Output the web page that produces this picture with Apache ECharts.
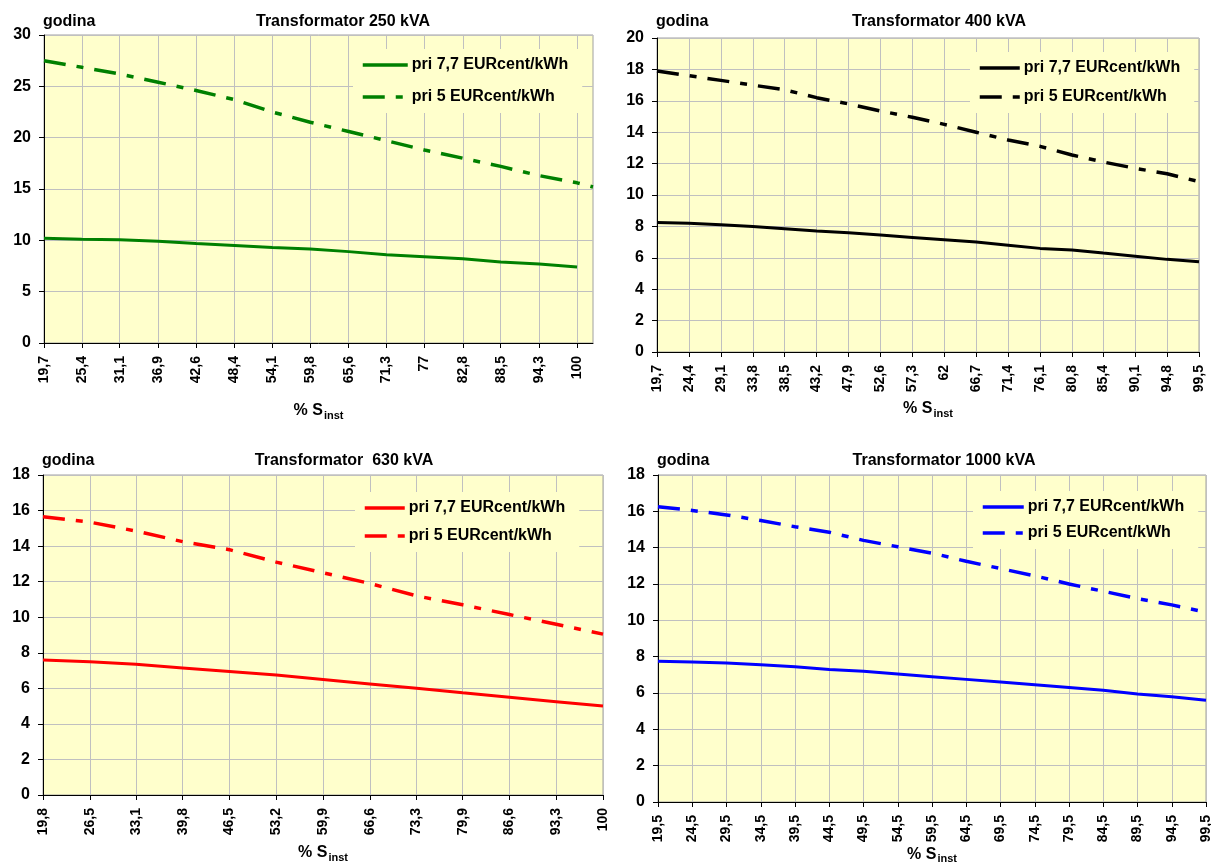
<!DOCTYPE html>
<html>
<head>
<meta charset="utf-8">
<script src="https://cdn.jsdelivr.net/npm/echarts@6/dist/echarts.min.js"></script>
<style>
  html, body { margin: 0; padding: 0; background: #ffffff; }
  #chart { width: 1211px; height: 864px; }
</style>
</head>
<body>
<div id="chart"></div>
<script>
// ---------- DATA ----------
const seriesNames = ['pri 7,7 EURcent/kWh', 'pri 5 EURcent/kWh'];
const yTitle = 'godina';
const titles = ['Transformator 250 kVA', 'Transformator 400 kVA', 'Transformator  630 kVA', 'Transformator 1000 kVA'];

// Transformator 250 kVA
const x250 = [19.7, 25.4, 31.1, 36.9, 42.6, 48.4, 54.1, 59.8, 65.6, 71.3, 77, 82.8, 88.5, 94.3, 100];
const x250End = 102.4;
const solid250 = [10.2, 10.1, 10.05, 9.9, 9.7, 9.5, 9.3, 9.15, 8.9, 8.6, 8.4, 8.2, 7.9, 7.7, 7.4];
const dash250 = [27.5, 26.85, 26.2, 25.4, 24.6, 23.7, 22.5, 21.5, 20.6, 19.7, 18.8, 18.0, 17.2, 16.3, 15.6, 15.2];

// Transformator 400 kVA
const x400 = [19.7, 24.4, 29.1, 33.8, 38.5, 43.2, 47.9, 52.6, 57.3, 62, 66.7, 71.4, 76.1, 80.8, 85.4, 90.1, 94.8, 99.5];
const solid400 = [8.25, 8.2, 8.1, 8.0, 7.85, 7.7, 7.6, 7.45, 7.3, 7.15, 7.0, 6.8, 6.6, 6.5, 6.3, 6.1, 5.9, 5.75];
const dash400 = [17.9, 17.6, 17.3, 17.0, 16.7, 16.2, 15.8, 15.35, 14.95, 14.5, 14.0, 13.5, 13.1, 12.55, 12.1, 11.7, 11.35, 10.85];

// Transformator 630 kVA
const x630 = [19.8, 26.5, 33.1, 39.8, 46.5, 53.2, 59.9, 66.6, 73.3, 79.9, 86.6, 93.3, 100];
const solid630 = [7.6, 7.5, 7.35, 7.15, 6.95, 6.75, 6.5, 6.25, 6.0, 5.75, 5.5, 5.25, 5.0];
const dash630 = [15.65, 15.35, 14.85, 14.25, 13.8, 13.1, 12.5, 11.9, 11.2, 10.7, 10.15, 9.6, 9.05];

// Transformator 1000 kVA
const x1000 = [19.5, 24.5, 29.5, 34.5, 39.5, 44.5, 49.5, 54.5, 59.5, 64.5, 69.5, 74.5, 79.5, 84.5, 89.5, 94.5, 99.5];
const solid1000 = [7.75, 7.7, 7.65, 7.55, 7.45, 7.3, 7.2, 7.05, 6.9, 6.75, 6.6, 6.45, 6.3, 6.15, 5.95, 5.8, 5.6];
const dash1000 = [16.25, 16.05, 15.8, 15.5, 15.15, 14.85, 14.4, 14.05, 13.7, 13.25, 12.85, 12.45, 12.0, 11.6, 11.2, 10.85, 10.45];

// ---------- LAYOUT / STYLE ----------
const FONT = '"Liberation Sans", Arial, Helvetica, sans-serif';
const PLOT_BG = '#FFFFCC';
const GRID_LINE = '#C0C0C0';
const DASH = [22, 11, 7, 11];

const panels = [
  { ticks: x250, xMax: x250End, solid: solid250, dash: dash250, dashX: x250.concat([x250End]),
    color: '#008000', yMax: 30, yStep: 5,
    grid: { left: 44, top: 35, width: 549, height: 308 },
    titleX: 343, titleY: 22, nameGap: 58,
    legend: { left: 353, top: 49, itemGap: 16, itemWidth: 45 } },
  { ticks: x400, xMax: 99.5, solid: solid400, dash: dash400, dashX: x400,
    color: '#000000', yMax: 20, yStep: 2,
    grid: { left: 657, top: 38, width: 542, height: 314 },
    titleX: 939, titleY: 22, nameGap: 47,
    legend: { left: 970, top: 52, itemGap: 13, itemWidth: 40 } },
  { ticks: x630, xMax: 100, solid: solid630, dash: dash630, dashX: x630,
    color: '#FF0000', yMax: 18, yStep: 2,
    grid: { left: 43, top: 475, width: 560, height: 320 },
    titleX: 344, titleY: 461, nameGap: 48,
    legend: { left: 355, top: 492, itemGap: 12, itemWidth: 40 } },
  { ticks: x1000, xMax: 99.5, solid: solid1000, dash: dash1000, dashX: x1000,
    color: '#0000FF', yMax: 18, yStep: 2,
    grid: { left: 658, top: 475, width: 548, height: 327 },
    titleX: 944, titleY: 461, nameGap: 41,
    legend: { left: 973, top: 491, itemGap: 10, itemWidth: 41 } }
];

const grids = [], xAxes = [], yAxes = [], series = [], legends = [], graphics = [];

panels.forEach((p, i) => {
  const xMin = p.ticks[0];
  grids.push(Object.assign({ show: true, backgroundColor: PLOT_BG, borderColor: '#A0A0A0', borderWidth: 1,
    containLabel: false, outerBoundsMode: 'none' }, p.grid));

  xAxes.push({
    gridIndex: i, type: 'value', min: xMin, max: p.xMax,
    axisLine: { show: true, onZero: false, lineStyle: { color: '#000', width: 1 } },
    axisTick: { show: true, length: 5, customValues: p.ticks, lineStyle: { color: '#000' } },
    axisLabel: {
      customValues: p.ticks, rotate: 90, margin: 13,
      fontSize: 14, fontWeight: 'bold', fontFamily: FONT, color: '#000',
      formatter: v => String(v).replace('.', ',')
    },
    splitLine: { show: true, lineStyle: { color: GRID_LINE, width: 1 } },
    name: '{a|% S}{b|inst}', nameLocation: 'middle', nameGap: p.nameGap,
    nameTextStyle: {
      rich: {
        a: { fontSize: 16, fontWeight: 'bold', fontFamily: FONT, color: '#000' },
        b: { fontSize: 11, fontWeight: 'bold', fontFamily: FONT, color: '#000', padding: [9, 0, 0, 1] }
      }
    }
  });

  yAxes.push({
    gridIndex: i, type: 'value', min: 0, max: p.yMax, interval: p.yStep,
    axisLine: { show: true, lineStyle: { color: '#000', width: 1 } },
    axisTick: { show: true, length: 5, lineStyle: { color: '#000' } },
    axisLabel: { margin: 13, fontSize: 16, fontWeight: 'bold', fontFamily: FONT, color: '#000' },
    splitLine: { show: true, lineStyle: { color: GRID_LINE, width: 1 } }
  });

  const n1 = seriesNames[0] + '#' + i;
  const n2 = seriesNames[1] + '#' + i;
  series.push({
    type: 'line', name: n1, xAxisIndex: i, yAxisIndex: i,
    data: p.ticks.map((x, k) => [x, p.solid[k]]),
    symbol: 'none', showSymbol: false, smooth: false,
    lineStyle: { color: p.color, width: 3, type: 'solid' },
    itemStyle: { color: p.color }, z: 3
  });
  series.push({
    type: 'line', name: n2, xAxisIndex: i, yAxisIndex: i,
    data: p.dashX.map((x, k) => [x, p.dash[k]]),
    symbol: 'none', showSymbol: false, smooth: false,
    lineStyle: { color: p.color, width: 3.5, type: DASH },
    itemStyle: { color: p.color }, z: 3
  });

  legends.push({
    orient: 'vertical', left: p.legend.left, top: p.legend.top,
    data: [n1, n2], selectedMode: false,
    formatter: name => name.split('#')[0],
    itemWidth: p.legend.itemWidth, itemHeight: 14, itemGap: p.legend.itemGap,
    itemStyle: { opacity: 0, borderWidth: 0 },
    lineStyle: { width: 3.5 },
    backgroundColor: PLOT_BG, padding: [8, 14, 8, 8],
    textStyle: { fontSize: 16, fontWeight: 'bold', fontFamily: FONT, color: '#000', padding: [0, 0, 0, -1] }
  });

  graphics.push({
    type: 'text', x: p.titleX, y: p.titleY, silent: true,
    style: { text: titles[i], font: 'bold 16px ' + FONT, fill: '#000', align: 'center', verticalAlign: 'middle' }
  });
  graphics.push({
    type: 'text', x: p.grid.left - 1, y: p.titleY, silent: true,
    style: { text: yTitle, font: 'bold 16px ' + FONT, fill: '#000', align: 'left', verticalAlign: 'middle' }
  });
});

const chart = echarts.init(document.getElementById('chart'), null, { renderer: 'canvas' });
chart.setOption({
  backgroundColor: '#ffffff',
  animation: false,
  grid: grids,
  xAxis: xAxes,
  yAxis: yAxes,
  legend: legends,
  series: series,
  graphic: graphics
});
</script>
</body>
</html>
